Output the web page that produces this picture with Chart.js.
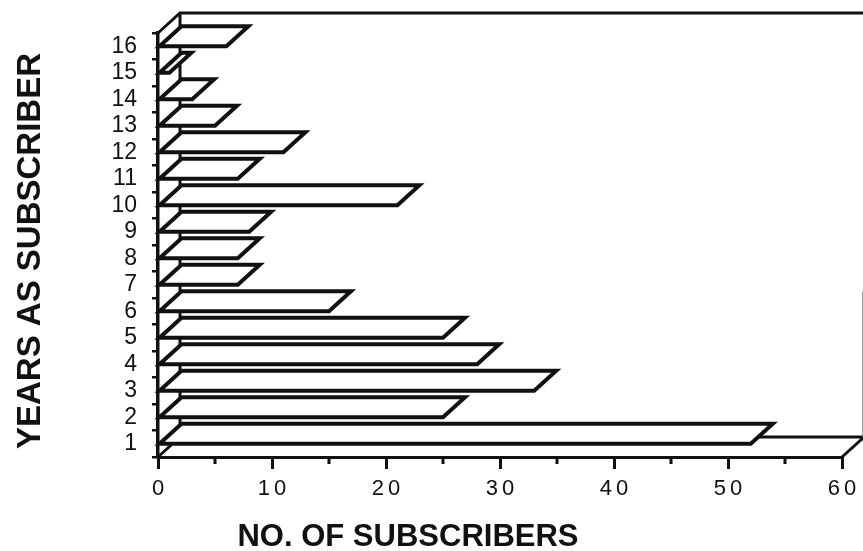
<!DOCTYPE html>
<html>
<head>
<meta charset="utf-8">
<style>
  html, body { margin: 0; padding: 0; background: #ffffff; }
  #wrap { width: 863px; height: 551px; position: relative; }
</style>
<script src="https://cdn.jsdelivr.net/npm/chart.js@4/dist/chart.umd.min.js"></script>
</head>
<body>
<div id="wrap"><canvas id="c"></canvas></div>
<script>
// ---- data ----
const years = ['1','2','3','4','5','6','7','8','9','10','11','12','13','14','15','16'];
const subscribers = [52, 25, 33, 28, 25, 15, 7, 7, 8, 21, 7, 11, 5, 3, 1, 6];
const xMin = 0;
const xMax = 60;
const xStep = 10;
const xTitle = 'NO. OF SUBSCRIBERS';
const yTitle = 'YEARS AS SUBSCRIBER';

// ---- style / layout constants ----
const INK = '#111111';
const DX = 22;   // 3D depth, horizontal
const DY = 20;   // 3D depth, vertical
const X_TITLE_SHIFT = -92;
const Y_TITLE_SHIFT = 6;

const frame3d = {
  id: 'frame3d',
  beforeDatasetsDraw(chart) {
    const { ctx, chartArea } = chart;
    const { left, right, top, bottom } = chartArea;
    ctx.save();
    ctx.strokeStyle = INK;
    ctx.lineWidth = 3;
    ctx.lineJoin = 'miter';
    ctx.lineCap = 'butt';
    ctx.beginPath();
    ctx.moveTo(left + DX, top - DY);
    ctx.lineTo(left + DX, bottom - DY);
    ctx.moveTo(left, top);
    ctx.lineTo(left + DX, top - DY);
    ctx.lineTo(chart.width, top - DY);
    ctx.moveTo(left, bottom);
    ctx.lineTo(left + DX, bottom - DY);
    ctx.lineTo(right + DX, bottom - DY);
    ctx.lineTo(right, bottom);
    ctx.stroke();

    // minor x ticks (midway between major ticks)
    const sx = chart.scales.x;
    ctx.beginPath();
    for (let i = 0; i < sx.ticks.length - 1; i++) {
      const v = (sx.ticks[i].value + sx.ticks[i + 1].value) / 2;
      const px = sx.getPixelForValue(v);
      ctx.moveTo(px, bottom);
      ctx.lineTo(px, bottom + 7);
    }
    ctx.stroke();

    // thin right back wall edge (partly visible)
    ctx.strokeStyle = '#777';
    ctx.lineWidth = 1.5;
    ctx.beginPath();
    ctx.moveTo(right + DX - 1, bottom - DY);
    ctx.lineTo(right + DX - 1, top + (bottom - top) * 0.61);
    ctx.stroke();
    ctx.restore();
  },
  afterDatasetsDraw(chart) {
    const { ctx } = chart;
    const meta = chart.getDatasetMeta(0);
    ctx.save();
    ctx.strokeStyle = INK;
    ctx.fillStyle = '#ffffff';
    ctx.lineWidth = 4;
    ctx.lineJoin = 'miter';
    meta.data.forEach((el) => {
      const { x, y, base } = el.getProps(['x', 'y', 'base'], true);
      ctx.beginPath();
      ctx.moveTo(base, y);
      ctx.lineTo(x, y);
      ctx.lineTo(x + DX, y - DY);
      ctx.lineTo(base + DX, y - DY);
      ctx.closePath();
      ctx.fill();
      ctx.stroke();
    });
    ctx.restore();
  }
};

const axisTweaks = {
  id: 'axisTweaks',
  afterLayout(chart) {
    const sx = chart.scales.x;
    const sy = chart.scales.y;
    if (!sx._tweaked) {
      sx._tweaked = true;
      const dl = sx.drawLabels.bind(sx);
      sx.drawLabels = function (a) {
        const c = this.ctx; c.save(); c.letterSpacing = '4px'; c.translate(2, 0); dl(a); c.restore();
      };
      const dt = sx.drawTitle.bind(sx);
      sx.drawTitle = function () {
        const c = this.ctx; c.save(); c.translate(X_TITLE_SHIFT, 0); dt(); c.restore();
      };
    }
    if (!sy._tweaked) {
      sy._tweaked = true;
      const dt = sy.drawTitle.bind(sy);
      sy.drawTitle = function () {
        const c = this.ctx; c.save(); c.translate(0, Y_TITLE_SHIFT); dt(); c.restore();
      };
    }
  }
};

new Chart(document.getElementById('c'), {
  type: 'bar',
  data: {
    labels: years,
    datasets: [{
      data: subscribers,
      backgroundColor: 'rgba(0,0,0,0)',
      borderWidth: 0,
      categoryPercentage: 1,
      barPercentage: 1
    }]
  },
  options: {
    indexAxis: 'y',
    responsive: true,
    maintainAspectRatio: false,
    animation: false,
    devicePixelRatio: 1,
    layout: { padding: { left: 0, right: 21, top: 33, bottom: 0 } },
    plugins: { legend: { display: false }, tooltip: { enabled: false } },
    scales: {
      x: {
        type: 'linear',
        min: xMin,
        max: xMax,
        ticks: { stepSize: xStep, color: INK, padding: 7, maxRotation: 0, autoSkip: false,
                 font: { family: 'Liberation Sans', size: 22 } },
        grid: { drawOnChartArea: false, drawTicks: true, tickLength: 12, lineWidth: 3, color: INK },
        border: { display: true, width: 3, color: INK },
        title: { display: true, text: xTitle, color: INK, padding: { top: 0, bottom: 0 },
                 font: { family: 'Liberation Sans', size: 31, weight: 'bold', lineHeight: 0.9 } },
        afterFit(s) { s.height = 94; }
      },
      y: {
        type: 'category',
        reverse: true,
        offset: true,
        ticks: { color: INK, padding: 15, autoSkip: false, font: { family: 'Liberation Sans', size: 23, lineHeight: 1 } },
        grid: { drawOnChartArea: false, drawTicks: true, tickLength: 6, lineWidth: 2.5, color: INK, offset: true },
        border: { display: true, width: 3.5, color: INK },
        title: { display: true, text: yTitle, color: INK, padding: { top: 14, bottom: 0 },
                 font: { family: 'Liberation Sans', size: 33, weight: 'bold', lineHeight: 1 } },
        afterFit(s) { s.width = 158; }
      }
    }
  },
  plugins: [frame3d, axisTweaks]
});
</script>
</body>
</html>
